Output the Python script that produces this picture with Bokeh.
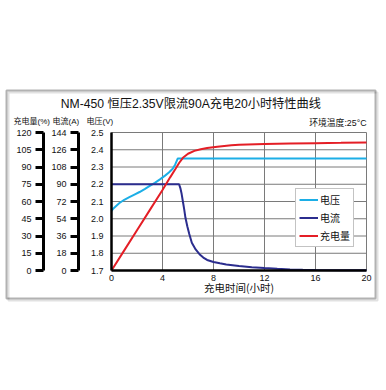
from bokeh.plotting import figure
from bokeh.models import (Range1d, LinearAxis, Label, BoxAnnotation, Legend,
                          LegendItem, FixedTicker, PrintfTickFormatter)
from bokeh.embed import file_html
from bokeh.resources import INLINE

# ---------------- data ----------------
volt_time = [0, 0.15, 0.3, 0.6, 1.0, 1.4, 1.8, 2.2, 2.6, 3.0, 3.4, 3.8, 4.2,
             4.5, 4.8, 5.0, 5.2, 6, 8, 10, 12, 14, 16, 18, 20]
voltage = [2.045, 2.06, 2.07, 2.09, 2.11, 2.125, 2.14, 2.155, 2.172, 2.19,
           2.208, 2.228, 2.25, 2.268, 2.29, 2.315, 2.35, 2.35, 2.35, 2.35,
           2.35, 2.35, 2.35, 2.35, 2.35]

curr_time = [0, 5.3, 5.4, 5.5, 5.6, 5.7, 5.8, 5.95, 6.1, 6.3, 6.6, 6.9, 7.2,
             7.5, 8.0, 8.5, 9, 10, 11, 12, 13, 14, 15, 16, 18, 20]
current = [90, 90, 86, 80, 72, 64, 55, 46, 38, 29, 22, 17, 13.5, 11, 8.8,
           7.5, 6.3, 4.8, 3.5, 2.5, 1.7, 1.1, 0.7, 0.5, 0.3, 0.2]

chg_time = [0, 1, 2, 3, 4, 4.6, 5.0, 5.3, 5.6, 6.0, 6.5, 7.0, 7.5, 8.3, 9.4,
            10, 12, 14, 16, 18, 20]
charge = [0, 17.5, 35, 52.5, 70, 81, 88, 93.5, 98, 101.5, 104, 105.5, 106.5,
          107.7, 109, 109.3, 110, 110.4, 110.7, 111, 111.4]

x_ticks = [0, 4, 8, 12, 16, 20]
volt_ticks = [1.7, 1.8, 1.9, 2.0, 2.1, 2.2, 2.3, 2.4, 2.5]
curr_ticks = [0, 18, 36, 54, 72, 90, 108, 126, 144]
chg_ticks = [0, 15, 30, 45, 60, 75, 90, 105, 120]

title_text = "NM-450  恒压2.35V限流90A充电20小时特性曲线"
temp_text = "环境温度:25°C"
x_title = "充电时间(小时)"
y_titles = ["充电量(%)", "电流(A)", "电压(V)"]
series_names = ["电压", "电流", "充电量"]

# ---------------- layout (canvas pixels) ----------------
W, H = 386, 390
PL, PR, PT, PB = 111, 366, 132, 270      # plot area
AX_CUR, AX_CHG = 78, 43                  # spine x of the extra left axes

FONT = "Liberation Sans, Noto Sans CJK SC"
CJK = "Noto Sans CJK SC, Liberation Sans"
C_V = "#1CAEE6"
C_I = "#2B2D8E"
C_C = "#E41E26"
GRID = "#7a7a7a"


def full_range(lo, hi, p_lo, p_hi, total, flip=False):
    """extend a data range so that it covers the whole canvas"""
    k = (hi - lo) / abs(p_hi - p_lo)
    if flip:   # vertical: p_lo is the bottom pixel
        return lo - (total - p_lo) * k, hi + p_hi * k
    return lo - p_lo * k, hi + (total - p_hi) * k


xr = full_range(x_ticks[0], x_ticks[-1], PL, PR, W)
vr = full_range(volt_ticks[0], volt_ticks[-1], PB, PT, H, flip=True)
cr = full_range(curr_ticks[0], curr_ticks[-1], PB, PT, H, flip=True)
qr = full_range(chg_ticks[0], chg_ticks[-1], PB, PT, H, flip=True)
kx = (x_ticks[-1] - x_ticks[0]) / (PR - PL)

p = figure(width=W, height=H, output_backend="svg", toolbar_location=None,
           x_range=Range1d(*xr), y_range=Range1d(*vr), title=None,
           min_border=0, min_border_left=0, min_border_right=0,
           min_border_top=0, min_border_bottom=0)
p.extra_y_ranges = {"cur": Range1d(*cr), "chg": Range1d(*qr)}
p.background_fill_color = "white"
p.border_fill_color = "white"
p.outline_line_color = None
p.xgrid.visible = False
p.ygrid.visible = False

# grid lines of the plot area (from the tick arrays)
p.segment(x0=x_ticks, y0=[volt_ticks[0]] * len(x_ticks), x1=x_ticks,
          y1=[volt_ticks[-1]] * len(x_ticks), line_color=GRID, line_width=1)
p.segment(x0=[x_ticks[0]] * len(volt_ticks), y0=volt_ticks,
          x1=[x_ticks[-1]] * len(volt_ticks), y1=volt_ticks,
          line_color=GRID, line_width=1)

# x axis
xa = p.xaxis[0]
xa.fixed_location = volt_ticks[0]
xa.bounds = (x_ticks[0], x_ticks[-1])
xa.ticker = FixedTicker(ticks=x_ticks)
xa.major_tick_out = 0
xa.major_tick_in = 0
xa.minor_tick_out = 0
xa.axis_line_color = "black"
xa.axis_line_width = 2.5
xa.major_label_text_font = FONT
xa.major_label_text_font_size = "9px"
xa.major_label_text_color = "#111"
xa.major_label_standoff = 4
xa.axis_label = x_title
xa.axis_label_text_font = CJK
xa.axis_label_text_font_size = "10.5px"
xa.axis_label_text_font_style = "normal"
xa.axis_label_text_color = "#111"
xa.axis_label_standoff = -4

# voltage axis (default)
ya = p.yaxis[0]
ya.fixed_location = x_ticks[0]
ya.bounds = (volt_ticks[0], volt_ticks[-1])
ya.ticker = FixedTicker(ticks=volt_ticks)
ya.formatter = PrintfTickFormatter(format="%.1f")
ya.major_tick_out = 0
ya.major_tick_in = 0
ya.minor_tick_out = 0
ya.axis_line_color = "black"
ya.axis_line_width = 2.5
ya.major_label_text_font = FONT
ya.major_label_text_font_size = "9px"
ya.major_label_text_color = "#111"
ya.major_label_standoff = 8


def side_axis(rng, ticks, spine_px):
    ax = LinearAxis(y_range_name=rng, ticker=FixedTicker(ticks=ticks))
    ax.fixed_location = (spine_px - PL) * kx
    ax.bounds = (ticks[0], ticks[-1])
    ax.major_tick_out = 8
    ax.major_tick_in = 0
    ax.minor_tick_out = 0
    ax.major_tick_line_width = 3
    ax.major_tick_line_color = "black"
    ax.axis_line_width = 3
    ax.axis_line_color = "black"
    ax.major_label_text_font = FONT
    ax.major_label_text_font_size = "9px"
    ax.major_label_text_color = "#111"
    ax.major_label_standoff = 4
    return ax


p.add_layout(side_axis("cur", curr_ticks, AX_CUR), "left")
p.add_layout(side_axis("chg", chg_ticks, AX_CHG), "left")

# curves
rv = p.line(volt_time, voltage, line_color=C_V, line_width=2)
ri = p.line(curr_time, current, line_color=C_I, line_width=2, y_range_name="cur")
rc = p.line(chg_time, charge, line_color=C_C, line_width=2, y_range_name="chg")

legend = Legend(items=[LegendItem(label=series_names[0], renderers=[rv]),
                       LegendItem(label=series_names[1], renderers=[ri]),
                       LegendItem(label=series_names[2], renderers=[rc])],
                location=(295, H - 247))
legend.border_line_color = "#888"
legend.border_line_width = 1
legend.background_fill_color = "white"
legend.background_fill_alpha = 1
legend.glyph_width = 19
legend.glyph_height = 13
legend.label_height = 13
legend.label_width = 10
legend.label_standoff = 2
legend.padding = 3
legend.spacing = 3
legend.margin = 0
legend.label_text_font = CJK
legend.label_text_font_size = "10px"
legend.label_text_color = "#111"
p.add_layout(legend, "center")


# outer frame with shadow
def box(l, t, r, b, color):
    p.add_layout(BoxAnnotation(left=l, right=r, top=t, bottom=b,
                               left_units="canvas", right_units="canvas",
                               top_units="canvas", bottom_units="canvas",
                               fill_alpha=0, line_color=color, line_width=2,
                               level="overlay"))


box(8, 92, 377, 300, "#9a9a9a")
box(6, 90, 375, 298, "black")


def lab(x, y, text, size, align="left", font=FONT):
    p.add_layout(Label(x=x, y=y, x_units="canvas", y_units="canvas",
                       text=text, text_font=font, text_font_size=size,
                       text_align=align, text_baseline="middle",
                       text_color="#111"))


lab(192, 103, title_text, "12.2px", "center")
lab(366, 122, temp_text, "8.8px", "right")
lab(13, 121, y_titles[0], "8px")
lab(52, 121, y_titles[1], "8px")
lab(86, 121, y_titles[2], "8px")

open("out.html", "w").write(file_html(p, INLINE))
